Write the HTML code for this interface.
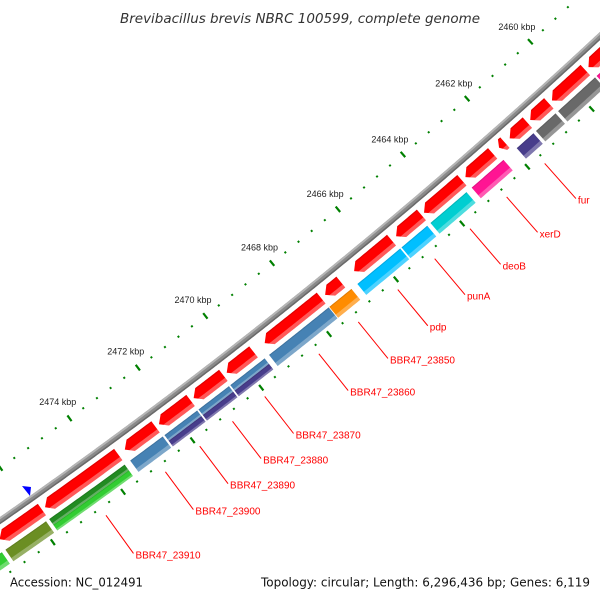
<!DOCTYPE html>
<html><head><meta charset="utf-8"><style>
html,body{margin:0;padding:0;background:#fff;overflow:hidden;width:600px;height:600px;}
svg{display:block;overflow:hidden;}
</style></head><body>
<svg id="chart" width="600" height="600" viewBox="0 0 600 600" xmlns="http://www.w3.org/2000/svg">
<defs><clipPath id="frame"><rect x="0" y="0" width="600" height="600"/></clipPath></defs>
<rect x="0" y="0" width="600" height="600" fill="#ffffff"/>
<g id="ring" clip-path="url(#frame)"></g>
<text x="300" y="23" text-anchor="middle" font-family="DejaVu Sans, Liberation Sans, sans-serif" font-style="italic" font-size="13" fill="#333" textLength="360" lengthAdjust="spacingAndGlyphs">Brevibacillus brevis NBRC 100599, complete genome</text>
<text x="10" y="586.5" font-family="DejaVu Sans, Liberation Sans, sans-serif" font-size="12" fill="#111" textLength="133" lengthAdjust="spacingAndGlyphs">Accession: NC_012491</text>
<text x="261" y="586.5" font-family="DejaVu Sans, Liberation Sans, sans-serif" font-size="12" fill="#111" textLength="329" lengthAdjust="spacingAndGlyphs">Topology: circular; Length: 6,296,436 bp; Genes: 6,119</text>
<polygon points="22,486 31,487 30,496" fill="#0000ff"/>
</svg>
<script>
// data (kbp)
const fwdStart=[2458.0,2459.5,2460.65,2461.32,2462.02,2462.4,2463.35,2464.59,2465.5,2467.03,2467.62,2469.63,2470.52,2471.48,2472.5,2473.58,2475.77];
const fwdEnd=[2459.4,2460.55,2461.23,2461.87,2462.2,2463.24,2464.51,2465.36,2466.63,2467.5,2469.3,2470.42,2471.39,2472.4,2473.39,2475.68,2476.97];
const revStart=[2458.5,2459.45,2460.69,2461.38,2462.31,2463.45,2464.65,2465.47,2466.94,2467.62,2469.52,2470.57,2471.5,2472.5,2473.6,2475.85,2477.1];
const revEnd=[2459.4,2460.61,2461.3,2461.9,2463.29,2464.55,2465.43,2466.76,2467.6,2469.39,2470.53,2471.46,2472.45,2473.44,2475.76,2477.0,2478.5];
const revColorA=["#ff1493","#696969","#696969","#483d8b","#ff1493","#00ced1","#00bfff","#00bfff","#ff8c00","#4682b4","#4682b4","#4682b4","#4682b4","#4682b4","#228b22","#6b8e23","#32cd32"];
const revColorB=[null,null,null,null,null,null,null,null,null,null,"#483d8b","#483d8b","#483d8b",null,"#32cd32",null,null];
const labelNames=["fur","xerD","deoB","punA","pdp","BBR47_23850","BBR47_23860","BBR47_23870","BBR47_23880","BBR47_23890","BBR47_23900","BBR47_23910"];
const labelKbp=[2461.65,2462.82,2463.94,2465.01,2466.12,2467.3,2468.47,2470.06,2471.0,2471.95,2472.94,2474.64];
const tickMin=2457.2, tickMax=2478, minorStep=0.4, majorStep=2;

const NS="http://www.w3.org/2000/svg";
const ring=document.getElementById('ring');
const CX=-3121, CY=-3957, K0=2460, A0=47.6, DEG_PER_KBP=0.45;
function pt(k,r){const a=(A0+(k-K0)*DEG_PER_KBP)*Math.PI/180;return [CX+r*Math.cos(a),CY+r*Math.sin(a)];}
function arcPts(k1,k2,r){const out=[];const n=Math.max(2,Math.ceil(Math.abs(k2-k1)/0.05));for(let i=0;i<=n;i++){out.push(pt(k1+(k2-k1)*i/n,r));}return out;}
function poly(points,fill,op){const p=document.createElementNS(NS,'polygon');p.setAttribute('points',points.map(q=>q[0].toFixed(2)+','+q[1].toFixed(2)).join(' '));p.setAttribute('fill',fill);if(op!==undefined)p.setAttribute('fill-opacity',op);ring.appendChild(p);return p;}
function band(k1,k2,r0,r1){return arcPts(k1,k2,r0).concat(arcPts(k2,k1,r1));}

// backbone
let bb=poly(band(2457,2479,5455,5461),'#8a8a8a');


poly(band(2457,2479,5455,5457),'#b5b5b5');
poly(band(2457,2479,5459.5,5461),'#6a6a6a');

// forward features (arrows)
const FR0=5466, FR1=5480, FRM=5473;
for(let i=0;i<fwdStart.length;i++){
  const s=fwdStart[i], e=fwdEnd[i], len=e-s;
  const h=Math.min(0.17,len*0.6), b=e-h;
  const shape=arcPts(s,b,FR0).concat([pt(e,FRM)]).concat(arcPts(b,s,FR1));
  const g=poly(shape,'#ff0000');
  
  
  const kf=b+h*(4/(FR1-FRM));
  poly(arcPts(s,b,FR1-4).concat([pt(kf,FR1-4)]).concat(arcPts(b,s,FR1)),'#ffffff',0.35);
  poly(arcPts(s,b,FR0).concat(arcPts(b,s,FR0+1.2)),'#000000',0.12);
}

// reverse features (blocks)
const RR0=5485, RR1=5499, RRM=5492;
function block(s,e,r0,r1,col,name){
  const g=poly(band(s,e,r0,r1),col);
  
  
  const t=(r1-r0)*0.28;
  poly(band(s,e,r1-t,r1),'#ffffff',0.3);
  poly(band(s,e,r0,r0+1),'#000000',0.12);
}
for(let i=0;i<revStart.length;i++){
  if(revColorB[i]){
    block(revStart[i],revEnd[i],RR0,RRM,revColorA[i],'reverse-gene-'+i+'-a');
    block(revStart[i],revEnd[i],RRM,RR1,revColorB[i],'reverse-gene-'+i+'-b');
  } else {
    block(revStart[i],revEnd[i],RR0,RR1,revColorA[i],'reverse-gene-'+i);
  }
}

// ticks
function tick(k,r,len,w,name){
  const a=pt(k,r-len/2), b=pt(k,r+len/2);
  const l=document.createElementNS(NS,'line');
  l.setAttribute('x1',a[0]);l.setAttribute('y1',a[1]);l.setAttribute('x2',b[0]);l.setAttribute('y2',b[1]);
  l.setAttribute('stroke','#008000');l.setAttribute('stroke-width',w);
  
  
  ring.appendChild(l);
}
const nT=Math.round((tickMax-tickMin)/minorStep);
for(let j=0;j<=nT;j++){
  const k=tickMin+j*minorStep;
  const major=Math.abs(k/majorStep-Math.round(k/majorStep))<1e-6;
  if(major){tick(k,5415,7,2.2,'inner-major-tick');tick(k,5506,7,2.2,'outer-major-tick');}
  else{tick(k,5415,2,2,'inner-minor-tick');tick(k,5506,2,2,'outer-minor-tick');}
}
for(let k=2458;k<=2478;k+=majorStep){
  const p=pt(k,5395);
  if(p[0]<22||p[0]>580||p[1]<8||p[1]>560)continue;
  const t=document.createElementNS(NS,'text');
  t.setAttribute('x',p[0]);t.setAttribute('y',p[1]+3);
  t.setAttribute('text-anchor','middle');
  t.setAttribute('font-family','Liberation Sans, sans-serif');
  t.setAttribute('font-size','9');t.setAttribute('fill','#222');
  t.textContent=k+' kbp';
  
  
  ring.appendChild(t);
}

// feature labels
for(let i=0;i<labelNames.length;i++){
  const a=pt(labelKbp[i],5515), b=pt(labelKbp[i],5562);
  const l=document.createElementNS(NS,'line');
  l.setAttribute('x1',a[0]);l.setAttribute('y1',a[1]);l.setAttribute('x2',b[0]);l.setAttribute('y2',b[1]);
  l.setAttribute('stroke','#ff0000');l.setAttribute('stroke-width','1');
  
  
  ring.appendChild(l);
  const t=document.createElementNS(NS,'text');
  t.setAttribute('x',b[0]+2);t.setAttribute('y',b[1]+5);
  t.setAttribute('font-family','Liberation Sans, sans-serif');
  t.setAttribute('font-size','10');t.setAttribute('fill','#ff0000');
  t.textContent=labelNames[i];
  
  
  ring.appendChild(t);
}
</script>
</body></html>
